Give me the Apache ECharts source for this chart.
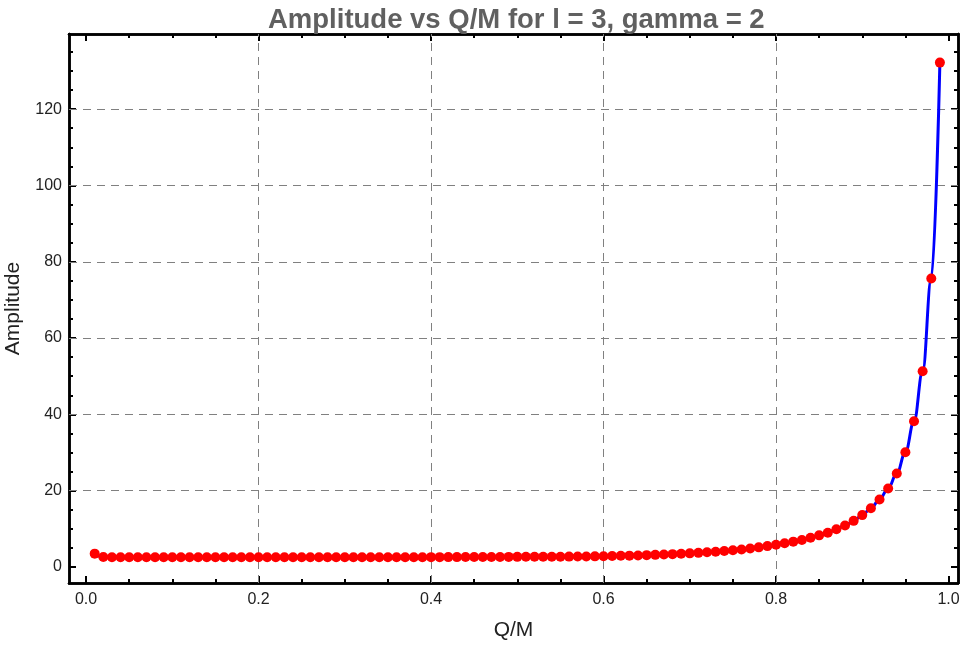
<!DOCTYPE html>
<html>
<head>
<meta charset="utf-8">
<script src="https://cdn.jsdelivr.net/npm/echarts@6/dist/echarts.min.js"></script>
<style>
html,body{margin:0;padding:0;background:#fff;}
#chart{width:961px;height:645px;}
</style>
</head>
<body>
<div id="chart"></div>
<script>
// ---- data ----
var qm = [0.01,0.02,0.03,0.04,0.05,0.06,0.07,0.08,0.09,0.10,
          0.11,0.12,0.13,0.14,0.15,0.16,0.17,0.18,0.19,0.20,
          0.21,0.22,0.23,0.24,0.25,0.26,0.27,0.28,0.29,0.30,
          0.31,0.32,0.33,0.34,0.35,0.36,0.37,0.38,0.39,0.40,
          0.41,0.42,0.43,0.44,0.45,0.46,0.47,0.48,0.49,0.50,
          0.51,0.52,0.53,0.54,0.55,0.56,0.57,0.58,0.59,0.60,
          0.61,0.62,0.63,0.64,0.65,0.66,0.67,0.68,0.69,0.70,
          0.71,0.72,0.73,0.74,0.75,0.76,0.77,0.78,0.79,0.80,
          0.81,0.82,0.83,0.84,0.85,0.86,0.87,0.88,0.89,0.90,
          0.91,0.92,0.93,0.94,0.95,0.96,0.97,0.98,0.99];
var amplitude = [3.50,2.62,2.58,2.56,2.55,2.55,2.55,2.55,2.55,2.55,
                 2.55,2.55,2.55,2.55,2.55,2.55,2.55,2.55,2.55,2.55,
                 2.55,2.55,2.55,2.55,2.55,2.55,2.55,2.55,2.55,2.55,
                 2.55,2.55,2.56,2.56,2.56,2.57,2.57,2.58,2.58,2.59,
                 2.59,2.60,2.60,2.61,2.62,2.62,2.63,2.64,2.65,2.66,
                 2.67,2.68,2.69,2.70,2.71,2.73,2.74,2.76,2.79,2.84,
                 2.88,2.93,2.98,3.04,3.11,3.19,3.27,3.37,3.47,3.58,
                 3.71,3.85,4.01,4.18,4.38,4.60,4.85,5.15,5.48,5.85,
                 6.25,6.65,7.10,7.65,8.30,9.00,9.90,10.9,12.1,13.6,
                 15.4,17.7,20.6,24.5,30.1,38.2,51.3,75.6,132.2];
var xMajor = [0,0.2,0.4,0.6,0.8,1.0];
var xMinor = [0.05,0.1,0.15,0.25,0.3,0.35,0.45,0.5,0.55,0.65,0.7,0.75,0.85,0.9,0.95];
var yMajor = [0,20,40,60,80,100,120];
var yMinor = [5,10,15,25,30,35,45,50,55,65,70,75,85,90,95,105,110,115,125,130,135];
var xGrid = [0.2,0.4,0.6,0.8];
var yGrid = [20,40,60,80,100,120];
var titleText = 'Amplitude vs Q/M for l = 3, gamma = 2';

// ---- chart ----
var XMIN = -0.0198, XMAX = 1.011, YMIN = -4.19, YMAX = 139.7;
var FONT = "'Liberation Sans', Arial, sans-serif";
var pts = qm.map(function(x,i){return [x, amplitude[i]];});

function xAx(pos, vals, len, labels, extra){
  var o = {
    type:'value', position:pos, min:XMIN, max:XMAX,
    axisLine:{show:true, onZero:false, lineStyle:{color:'#000', width:2.5}},
    axisTick:{show:true, inside:true, length:len, customValues:vals, lineStyle:{color:'#000', width:2}},
    axisLabel:{show:labels, customValues:vals, margin:9, color:'#222', fontSize:16, fontFamily:FONT,
               formatter:function(v){return (+v).toFixed(1);}},
    splitLine:{show:false}
  };
  return Object.assign(o, extra||{});
}
function yAx(pos, vals, len, labels, extra){
  var o = {
    type:'value', position:pos, min:YMIN, max:YMAX,
    axisLine:{show:true, onZero:false, lineStyle:{color:'#000', width:2.5}},
    axisTick:{show:true, inside:true, length:len, customValues:vals, lineStyle:{color:'#000', width:2}},
    axisLabel:{show:labels, customValues:vals, margin:7, color:'#222', fontSize:16, fontFamily:FONT,
               formatter:function(v){return String(Math.round(v));}},
    splitLine:{show:false}
  };
  return Object.assign(o, extra||{});
}

var gridLines = xGrid.map(function(v){return {xAxis:v};}).concat(yGrid.map(function(v){return {yAxis:v};}));

var option = {
  animation:false,
  backgroundColor:'#fff',
  title:{text:titleText, left:263, top:1,
         textStyle:{fontFamily:FONT, fontWeight:'bold', fontSize:27.5, color:'#606060'}},
  grid:{left:69, right:3, top:34, bottom:62, containLabel:false, outerBoundsMode:'none'},
  xAxis:[
    xAx('bottom', xMajor, 7, true, {name:'Q/M', nameLocation:'middle', nameGap:37,
        nameTextStyle:{fontFamily:FONT, fontSize:21, color:'#222'}}),
    xAx('bottom', xMinor, 4, false),
    xAx('top', xMajor, 7, false),
    xAx('top', xMinor, 4, false)
  ],
  yAxis:[
    yAx('left', yMajor, 7, true, {name:'Amplitude', nameLocation:'middle', nameGap:45, nameRotate:90,
        nameTextStyle:{fontFamily:FONT, fontSize:21, color:'#222'}}),
    yAx('left', yMinor, 4, false),
    yAx('right', yMajor, 7, false),
    yAx('right', yMinor, 4, false)
  ],
  series:[{
    type:'line', xAxisIndex:0, yAxisIndex:0,
    data:pts,
    smooth:0.4, smoothMonotone:'x',
    symbol:'circle', symbolSize:10, showSymbol:true,
    lineStyle:{color:'#0000ff', width:3},
    itemStyle:{color:'#ff0000'},
    z:5,
    markLine:{
      silent:true, symbol:['none','none'], label:{show:false},
      lineStyle:{color:'#808080', type:[8,6], width:1},
      data:gridLines, z:1
    }
  }]
};
var chart = echarts.init(document.getElementById('chart'), null, {renderer:'canvas'});
chart.setOption(option);
</script>
</body>
</html>
